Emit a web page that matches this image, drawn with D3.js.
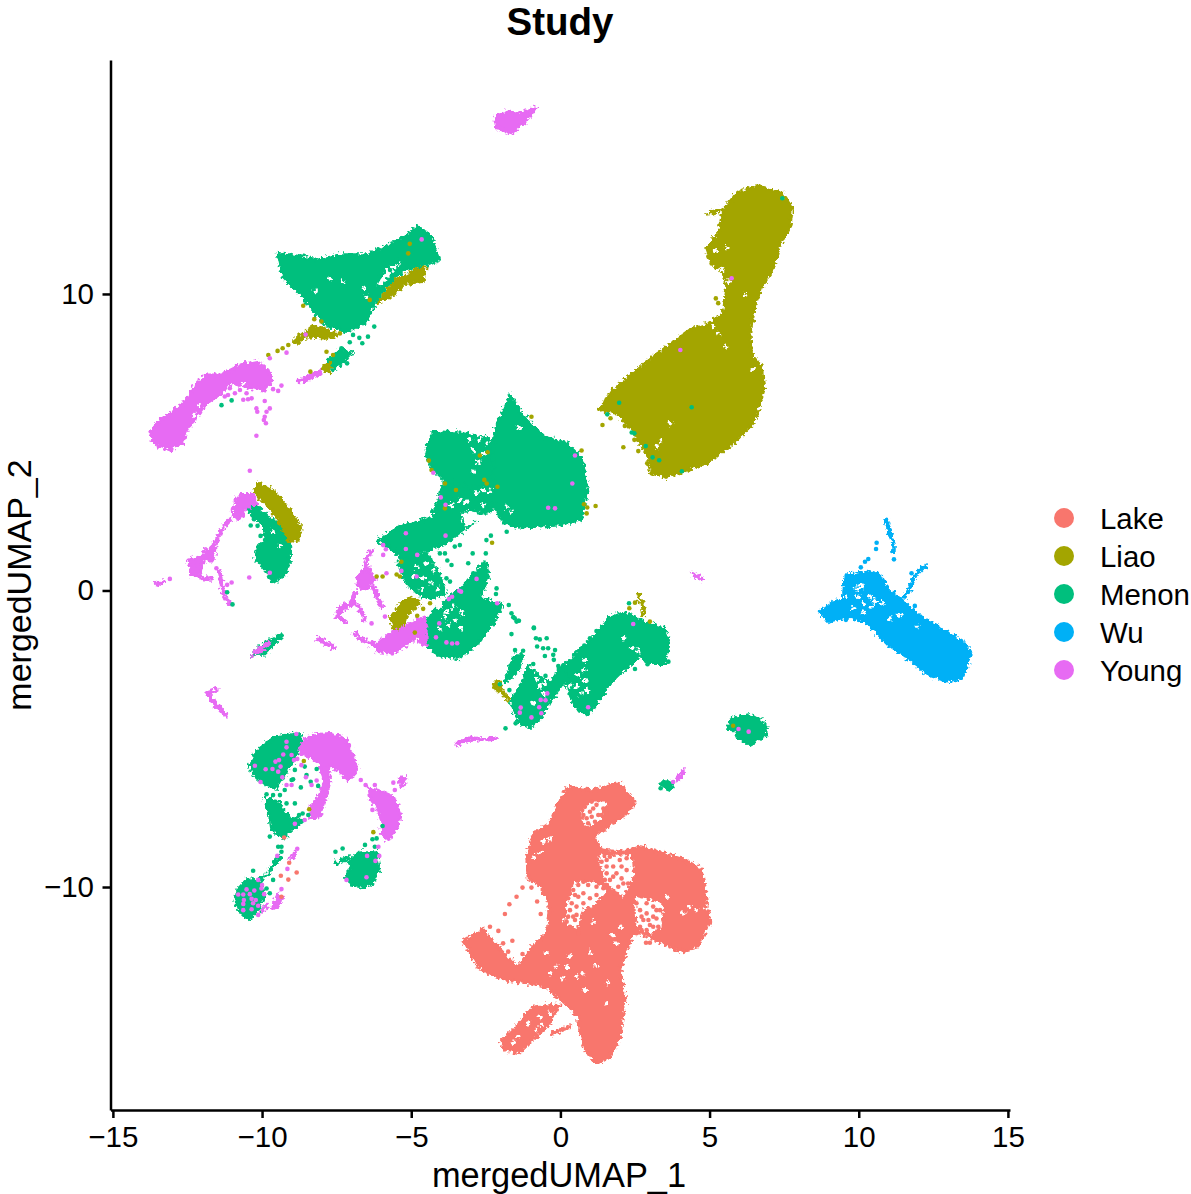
<!DOCTYPE html>
<html lang="en">
<head>
<meta charset="UTF-8">
<title>Study</title>
<script src="https://d3js.org/d3.v7.min.js"></script>
<style>
    html, body { margin: 0; background: #fff; }
    svg { display: block; }
    text { font-family: 'Liberation Sans', Arial, sans-serif; fill: #000; }
    .axis path, .axis line { stroke: #000; stroke-width: 2.5; }
</style>
</head>
<body>
<svg id="chart" width="1191" height="1194"></svg>
<script>
const studies = ["Lake", "Liao", "Menon", "Wu", "Young"];
const colours = ["#F8766D", "#A3A500", "#00BF7D", "#00B0F6", "#E76BF3"];
const xTicks = [-15, -10, -5, 0, 5, 10, 15];
const yTicks = [-10, 0, 10];

// outlines of the dense clouds
const lakeBlobs = [
    [[0.26,-6.64],[1.10,-6.73],[1.94,-6.48],[2.50,-7.12],[2.22,-7.52],[1.66,-7.91],[1.10,-8.30],[1.38,-8.75],[1.99,-8.81],[2.72,-8.64],[3.45,-8.86],[4.23,-9.11],[4.73,-9.43],[4.90,-10.55],[5.01,-11.17],[4.62,-12.01],[4.12,-12.18],[3.45,-11.90],[2.89,-11.62],[2.44,-11.56],[2.22,-12.12],[1.99,-12.80],[2.16,-13.81],[1.99,-15.05],[1.66,-15.72],[1.21,-15.95],[0.82,-15.50],[0.65,-14.82],[0.60,-14.32],[0.10,-13.87],[-0.46,-13.36],[-1.02,-13.25],[-1.86,-13.14],[-2.70,-12.74],[-3.26,-11.84],[-2.59,-11.43],[-2.20,-11.90],[-1.80,-12.35],[-1.41,-12.69],[-1.02,-12.12],[-0.46,-11.56],[-0.35,-10.89],[-0.41,-10.44],[-0.69,-9.93],[-1.08,-9.71],[-1.13,-9.03],[-0.91,-8.19],[-0.35,-7.85],[-0.13,-7.29]],
    [[-2.00,-15.22],[-1.47,-14.71],[-0.91,-14.04],[-0.02,-13.98],[-0.46,-14.71],[-1.02,-15.22],[-1.36,-15.59],[-1.86,-15.50]]
];
const liaoBlobs = [
    [[6.58,13.65],[7.42,13.40],[7.78,12.89],[7.69,12.27],[7.33,11.60],[7.13,10.81],[6.74,10.25],[6.52,9.57],[6.35,8.68],[6.41,7.94],[6.74,7.55],[6.82,6.76],[6.46,5.64],[5.79,4.96],[4.90,4.29],[4.12,4.01],[3.54,3.84],[3.06,3.95],[2.94,4.51],[2.33,5.52],[1.88,5.98],[1.32,6.09],[1.77,6.76],[2.44,7.33],[3.34,8.05],[4.34,8.79],[5.01,9.01],[5.46,9.35],[5.57,10.13],[5.46,10.70],[5.07,11.04],[4.90,11.54],[5.29,12.05],[5.46,12.83],[5.91,13.40]],
    [[-6.11,9.74],[-5.49,10.47],[-4.82,10.81],[-4.54,10.92],[-4.60,10.42],[-5.16,10.36],[-5.83,9.80]],
    [[-8.96,8.39],[-8.62,8.67],[-8.29,8.92],[-7.84,8.79],[-7.50,8.62],[-7.84,8.51],[-8.51,8.56],[-8.84,8.34]],
    [[-8.00,7.49],[-7.73,7.66],[-7.73,7.38]],
    [[-10.13,3.62],[-9.57,3.33],[-9.07,2.72],[-8.68,2.10],[-8.79,1.70],[-9.07,1.65],[-9.35,2.21],[-9.57,2.55],[-9.96,3.00],[-10.26,3.33]],
    [[-5.72,-0.94],[-5.33,-0.43],[-5.05,-0.26],[-4.71,-0.38],[-5.10,-0.79],[-5.25,-1.16],[-5.55,-1.31]],
    [[-2.25,-3.19],[-2.14,-3.05],[-2.00,-3.19],[-2.14,-3.36]]
];
const menonBlobs = [
    [[-9.46,11.37],[-8.06,11.15],[-7.39,11.32],[-6.50,11.32],[-5.61,11.71],[-5.05,12.05],[-4.77,12.27],[-4.37,11.99],[-4.06,11.15],[-4.49,10.98],[-5.27,10.81],[-5.94,10.13],[-6.28,9.57],[-6.50,9.07],[-7.17,8.73],[-7.84,8.95],[-8.40,9.57],[-8.62,9.91],[-9.29,10.58]],
    [[-7.78,7.77],[-7.39,8.11],[-7.00,8.05],[-7.22,7.77],[-7.62,7.44]],
    [[-10.47,2.77],[-10.19,2.88],[-9.74,2.43],[-9.35,2.21],[-9.07,1.59],[-9.09,0.92],[-9.24,0.52],[-9.63,0.27],[-9.85,0.64],[-10.21,1.08],[-10.13,1.48],[-9.85,1.76],[-10.02,2.27],[-10.30,2.49]],
    [[-10.32,-2.17],[-10.07,-1.87],[-9.51,-1.56],[-9.29,-1.53],[-9.46,-1.67],[-9.91,-2.14]],
    [[-1.69,6.59],[-1.30,5.97],[-0.58,5.19],[0.21,4.96],[0.71,4.46],[0.90,3.50],[0.71,2.38],[-0.02,2.21],[-1.47,2.13],[-1.92,2.32],[-2.25,2.94],[-2.36,4.29],[-2.14,5.53]],
    [[-4.26,5.36],[-3.26,5.30],[-2.25,5.08],[-2.25,3.50],[-2.81,3.50],[-3.26,3.39],[-3.87,3.73],[-4.32,4.12],[-4.51,4.68]],
    [[-3.26,3.39],[-2.36,3.50],[-2.14,2.71],[-2.59,2.60],[-3.03,2.77],[-3.26,2.94]],
    [[-4.26,2.60],[-3.87,3.73],[-3.03,3.50],[-2.81,2.83],[-3.37,2.60]],
    [[-6.11,1.70],[-5.38,2.15],[-4.37,2.43],[-3.82,2.83],[-3.26,2.43],[-2.87,2.32],[-3.26,2.04],[-3.93,1.53],[-4.82,1.25],[-5.27,0.97],[-5.60,1.37],[-5.94,1.57]],
    [[-5.44,0.92],[-4.49,1.25],[-4.04,0.52],[-3.87,-0.10],[-4.37,-0.26],[-4.82,-0.10],[-5.21,0.35]],
    [[-4.26,-0.71],[-3.26,0.13],[-2.53,0.97],[-2.39,0.52],[-2.70,-0.26],[-1.97,-0.49],[-2.25,-1.11],[-2.81,-1.84],[-3.48,-2.29],[-4.15,-2.18],[-4.54,-1.67],[-4.49,-1.11]],
    [[0.15,-2.51],[0.65,-2.01],[1.21,-1.50],[1.66,-0.88],[2.22,-0.75],[2.89,-1.11],[3.45,-1.28],[3.65,-1.73],[3.50,-2.46],[3.00,-2.46],[2.67,-2.23],[2.22,-2.57],[1.66,-3.13],[1.10,-3.97],[0.88,-4.20],[0.49,-3.92],[0.26,-3.36]],
    [[-1.67,-3.75],[-1.30,-3.13],[-1.08,-2.57],[-0.69,-2.91],[-0.30,-3.13],[-0.02,-2.57],[0.15,-2.51],[0.21,-3.02],[-0.35,-3.69],[-0.63,-4.26],[-1.02,-4.61],[-1.41,-4.42]],
    [[-1.86,-3.02],[-1.52,-2.17],[-1.25,-2.17],[-1.41,-2.68],[-1.80,-3.07]],
    [[5.57,-4.65],[5.79,-4.31],[6.35,-4.18],[6.93,-4.54],[6.86,-4.93],[6.35,-5.19],[5.96,-4.99],[5.85,-4.74]],
    [[3.34,-6.45],[3.67,-6.45],[3.78,-6.50],[3.67,-6.71],[3.45,-6.62]],
    [[-10.39,-5.94],[-10.21,-5.44],[-9.57,-4.93],[-8.68,-4.82],[-8.73,-5.27],[-9.01,-5.83],[-9.29,-6.28],[-9.52,-6.67],[-9.96,-6.50],[-10.30,-6.22]],
    [[-9.91,-7.01],[-9.46,-7.12],[-9.24,-7.52],[-9.01,-7.68],[-8.57,-7.74],[-8.90,-7.99],[-9.29,-8.36],[-9.68,-8.02],[-9.76,-7.52]],
    [[-10.91,-10.44],[-10.80,-10.05],[-10.46,-9.74],[-10.02,-9.88],[-9.91,-10.27],[-10.13,-10.78],[-10.41,-11.08],[-10.74,-10.89]],
    [[-7.11,-9.15],[-6.72,-8.81],[-6.16,-8.81],[-6.08,-9.43],[-6.27,-9.88],[-6.61,-10.02],[-7.00,-9.93],[-7.17,-9.65],[-7.00,-9.31]]
];
const wuBlobs = [
    [[8.70,-0.71],[9.15,-0.38],[9.48,-0.32],[9.54,0.52],[9.93,0.56],[10.38,0.63],[10.71,0.52],[10.99,0.02],[11.44,-0.32],[11.94,-0.77],[12.72,-1.28],[13.50,-1.73],[13.75,-2.12],[13.50,-2.91],[13.06,-3.07],[12.33,-2.85],[11.72,-2.34],[10.93,-1.78],[10.26,-1.05],[9.59,-0.88],[8.98,-1.05]]
];
const youngBlobs = [
    [[-2.20,15.94],[-1.86,16.14],[-1.36,16.10],[-0.82,16.27],[-1.19,15.80],[-1.63,15.43],[-2.13,15.60]],
    [[-8.79,7.08],[-8.06,7.41],[-8.06,7.30],[-8.73,7.01]],
    [[-13.76,5.30],[-13.43,5.75],[-12.98,6.03],[-12.64,6.31],[-12.20,6.99],[-11.86,7.27],[-11.41,7.27],[-10.74,7.61],[-10.18,7.72],[-9.80,7.44],[-9.68,7.10],[-9.91,6.76],[-10.52,6.87],[-11.08,6.99],[-11.36,6.65],[-11.86,6.31],[-12.20,5.86],[-12.53,5.41],[-12.64,5.02],[-13.09,4.74],[-13.54,4.91]],
    [[-10.86,3.05],[-10.69,3.24],[-10.30,3.24],[-10.19,2.94],[-10.58,2.77],[-10.72,2.40],[-10.95,2.49],[-10.97,2.77]],
    [[-12.48,1.03],[-11.92,1.14],[-12.09,0.58],[-12.36,0.52]],
    [[-11.92,1.37],[-11.58,1.42],[-11.64,1.03],[-11.97,1.03]],
    [[-10.32,-2.17],[-10.13,-1.95],[-9.74,-1.73],[-9.91,-1.95],[-10.13,-2.12]],
    [[-6.22,-1.84],[-5.94,-1.61],[-5.27,-1.24],[-4.82,-1.00],[-4.71,-1.45],[-5.05,-1.73],[-5.60,-2.12],[-6.11,-2.06]],
    [[-4.93,-1.10],[-4.55,-0.90],[-4.50,-1.33],[-4.50,-1.85],[-4.71,-1.78],[-4.77,-1.33]],
    [[-6.78,0.52],[-6.44,0.80],[-6.22,0.35],[-6.55,0.02],[-6.78,0.13]],
    [[-8.68,-5.15],[-8.29,-4.87],[-7.73,-4.82],[-7.17,-5.04],[-6.95,-5.60],[-6.81,-6.05],[-7.11,-6.39],[-7.45,-6.05],[-7.78,-5.89],[-7.73,-6.50],[-7.84,-6.90],[-8.08,-7.63],[-8.37,-7.68],[-8.37,-7.35],[-8.08,-6.90],[-7.95,-6.50],[-8.06,-5.83],[-8.51,-5.55],[-8.73,-5.44]],
    [[-6.44,-6.67],[-6.05,-6.76],[-5.60,-6.95],[-5.35,-7.57],[-5.49,-8.02],[-5.77,-8.42],[-5.96,-8.25],[-6.00,-7.74],[-6.16,-7.29],[-6.39,-7.01]],
    [[-5.40,-6.33],[-5.18,-6.31],[-5.27,-6.62],[-5.38,-6.56]],
    [[-9.68,-10.66],[-9.46,-10.27],[-9.31,-10.38],[-9.46,-10.61],[-9.63,-10.72]]
];

// thin strands, one stroke each
const lakeTrails = [[[-0.24,-14.93],[0.32,-14.71]]];
const liaoTrails = [
    [[4.99,12.72],[5.35,12.83]],
    [[-2.14,-3.19],[-1.97,-3.41],[-1.75,-3.67]],
    [[2.61,-0.15],[2.78,-0.60],[2.80,-0.83]]
];
const menonTrails = [
    [[-9.40,-9.03],[-9.63,-9.26],[-9.80,-9.54],[-10.07,-9.76]],
    [[-7.50,-9.20],[-7.11,-9.00]]
];
const wuTrails = [
    [[10.93,2.38],[11.05,1.93],[11.16,1.59],[11.16,1.31]],
    [[12.22,0.84],[11.88,0.47],[11.66,-0.04],[11.49,-0.21]]
];
const youngTrails = [
    [[-11.08,2.38],[-11.36,2.04],[-11.58,1.59],[-11.86,1.25],[-12.31,0.92],[-12.31,0.64],[-11.97,0.41],[-11.69,0.41]],
    [[-11.44,0.64],[-11.36,0.24],[-11.25,-0.21],[-11.02,-0.49]],
    [[-13.52,0.21],[-13.31,0.30]],
    [[-8.12,-1.61],[-7.84,-1.78],[-7.56,-1.93]],
    [[-7.50,-0.88],[-7.34,-0.55],[-7.11,-0.46]],
    [[-11.86,-3.47],[-11.53,-3.36]],
    [[-11.80,-3.52],[-11.58,-3.80],[-11.36,-4.03],[-11.19,-4.25]],
    [[-6.33,1.34],[-6.52,0.97],[-6.55,0.69]],
    [[-6.27,0.13],[-5.99,-0.55]],
    [[-7.50,-0.83],[-7.17,-0.55],[-6.94,-0.43],[-6.67,-0.71],[-6.55,-0.99]],
    [[-7.45,-0.88],[-7.22,-1.05]],
    [[-6.89,-1.45],[-6.61,-1.67],[-6.22,-1.84]],
    [[-6.89,-0.04],[-7.00,-0.43]],
    [[3.92,-6.36],[4.14,-6.11]],
    [[-3.46,-5.18],[-2.98,-4.99],[-2.75,-5.02],[-2.20,-5.00]],
    [[4.44,0.56],[4.74,0.39]],
    [[-9.03,-9.03],[-8.90,-8.84]],
    [[-10.02,-10.83],[-9.85,-10.61]]
];

// empty patches inside the clouds
const emptyPatches = [
    [[-6.16,10.25],[-5.83,10.85],[-5.27,11.10],[-5.49,10.92],[-5.94,10.36]],
    [[-3.31,2.54],[-2.81,2.60],[-2.92,2.27],[-3.20,2.15]],
    [[0.49,-9.82],[1.10,-9.82],[1.55,-10.10],[1.21,-10.55],[0.71,-10.78],[0.60,-11.34],[0.21,-11.28],[0.21,-10.55]],
    [[0.71,-7.52],[0.99,-7.12],[1.55,-7.12],[1.32,-7.74],[0.99,-7.97],[0.77,-7.85]],
    [[1.27,-8.98],[2.39,-8.92],[2.44,-9.65],[2.11,-10.33],[1.55,-9.88]],
    [[2.50,-10.33],[3.45,-10.55],[3.39,-11.34],[3.00,-11.56],[2.55,-11.34]]
];

// small white specks in the clouds
const holes = [
    [5.29,8.67],[5.52,8.22],[5.12,8.90],[5.18,11.48],[5.57,11.54],[6.19,9.97],[6.47,7.44],[3.67,5.64],[3.34,5.02],[3.22,4.85],[5.40,10.81],[5.63,10.42],
    [-2.92,4.74],[-1.41,5.47],[-2.59,3.39],[-2.81,3.28],[-2.36,3.33],[-3.15,2.99],[-3.37,3.05],[-3.65,2.88],[-2.59,2.88],[-2.25,2.66],[-1.80,2.83],[-1.64,2.66],[-2.92,4.01],[-2.75,4.35],[-2.59,4.63],[-2.70,5.08],[-2.47,4.96],[-3.03,5.08],
    [-4.82,0.80],[-4.49,0.92],[-4.26,0.69],[-4.60,0.41],[-4.32,0.24],[-4.10,0.07],[-4.93,0.47],[-4.65,0.02],
    [-3.87,-0.88],[-3.54,-1.00],[-3.31,-0.77],[-3.76,-1.16],[-4.04,-0.55],[-3.59,-0.55],[-3.31,-1.28],[-3.82,-0.71],[-4.04,-1.28],
    [2.61,-2.06],[2.44,-1.95],[2.11,-1.61],[0.82,-2.34],[0.60,-2.85],[0.82,-3.02],[0.54,-3.24],[0.71,-3.47],[0.77,-2.68],[0.32,-3.24],[0.88,-3.36],[-0.69,-3.24],[-0.91,-3.81],[-0.57,-3.47],[-0.78,-3.02],[-0.52,-3.13],
    [4.12,-10.89],[4.57,-10.78],[4.90,-10.72],[3.56,-10.33],[4.34,-10.66],[0.82,-13.47],[0.10,-13.08],[-0.13,-12.69],[-0.46,-12.24],[0.32,-12.35],[0.77,-12.91],[1.88,-11.90],[1.77,-11.62],[1.10,-11.17],[1.60,-13.25],[1.55,-13.92],[0.54,-13.02],[0.21,-12.69],[1.21,-12.69],[-0.35,-12.91],[1.00,-12.18],[2.00,-11.34],[0.10,-11.11],[-0.69,-8.87],[-0.57,-8.47],[-0.91,-8.98],[-0.35,-8.36],[-0.63,-14.65],[-0.80,-14.82],[-1.08,-14.60],[-1.41,-15.05],[-1.58,-15.22],[-0.69,-14.37],[-0.35,-14.26],[-0.46,-14.93],
    [10.10,0.13],[9.93,0.07],[9.98,-0.21],[10.38,-0.21],[10.54,-0.38],[10.15,-0.43],[9.82,-0.60],[10.77,-0.43],[9.59,-0.21],[11.38,-0.83],[11.94,-1.22],[10.43,-0.54],[10.15,-0.71],[11.05,-0.94],
    [-10.91,6.87],[-10.63,6.99],[-12.25,5.95],[-12.09,6.25],[-8.20,10.10],[-7.70,10.50],[-7.30,10.40],[-6.60,10.20],[-6.50,9.90],[-9.65,2.00],[-9.40,1.50]
];

// single cells
const lakeDots = [
    [-9.37,-9.62],[-9.12,-9.75],[-8.84,-9.51],[-9.09,-9.18],[-9.35,-10.33],[-9.26,-8.33],
    [0.49,-10.27],[0.77,-10.21],[0.54,-10.66],[0.32,-10.78],[0.93,-9.93],[0.43,-11.00],
    [1.10,-7.35],[1.27,-7.57],[1.05,-7.63],[0.88,-7.68],
    [1.55,-9.09],[1.77,-9.31],[1.99,-9.09],[1.88,-9.54],[1.55,-9.54],[2.22,-9.43],[2.11,-9.88],[1.66,-9.76],
    [2.67,-10.78],[2.89,-10.89],[3.11,-11.00],[2.78,-11.11],[2.67,-11.34],[3.11,-10.66],[2.89,-10.55],[3.28,-11.34],[3.00,-11.28],[3.34,-10.78],[2.72,-11.45],[3.00,-11.88],[2.87,-11.88],
    [-1.86,-10.91],[-1.71,-10.58],[-1.47,-10.33],[-1.27,-10.02],[-0.97,-10.02],[-0.78,-10.49],[-0.66,-10.91],[-2.36,-11.34],[-2.08,-11.48],[-1.61,-11.81],[-1.75,-12.18],[-1.27,-12.26],[-1.92,-11.90],
    [0.82,-7.29],[0.99,-7.46],[1.21,-7.23],[1.44,-7.35],[1.38,-7.57],[1.16,-7.80],[0.93,-7.85],[1.05,-7.12],[1.55,-7.52],[0.77,-7.57],
    [0.60,-9.93],[0.77,-9.82],[1.21,-9.99],[1.44,-10.04],[0.43,-10.10],[0.60,-10.33],[0.99,-10.38],[1.21,-10.27],[0.26,-10.38],[0.38,-10.55],[0.77,-10.55],[0.54,-10.94],[0.26,-11.00],[0.21,-11.17],[0.49,-11.11],[0.32,-11.34],[0.60,-11.56],
    [1.38,-9.15],[1.66,-8.98],[2.22,-9.03],[2.05,-9.31],[1.55,-9.31],[1.77,-9.65],[2.05,-9.71],[2.27,-9.88],[1.94,-9.99],[1.83,-10.21],[1.49,-9.76],
    [2.55,-10.55],[2.72,-11.00],[2.95,-11.11],[3.22,-11.06],[3.11,-11.34],[2.89,-11.45],[2.50,-11.11],[2.55,-11.56],[3.22,-10.78],[3.45,-11.11]
];
const liaoDots = [
    [1.41,5.58],[1.55,6.44],[1.38,6.11],[1.68,5.81],[2.11,4.83],[2.61,4.70],[2.91,4.29],[3.06,3.95],[3.54,3.84],[2.16,5.55],[2.48,5.08],[5.21,9.85],[5.29,9.69],[5.07,11.03],[4.96,11.26],
    [-9.79,7.94],[-9.48,8.08],[-9.31,8.17],[-9.12,8.28],[-8.62,9.60],[-8.25,9.15],[-8.01,9.07],[-7.84,8.05],[-7.62,7.94],[-8.38,7.38],[-6.39,9.80],[-5.05,11.69],[-5.10,11.37],[-7.39,8.67],
    [0.71,4.72],[-0.97,5.86],[-4.41,4.38],[-4.32,4.06],[-3.87,3.61],[-3.50,3.39],[-2.55,3.73],[-2.47,3.61],[-2.11,3.50],[-3.87,2.77],[-2.70,4.55],[-2.44,4.66],[0.79,2.91],[0.90,2.80],[0.88,2.60],[1.18,2.85],[-2.29,1.61],[-5.33,0.97],[-6.16,0.47],[-5.96,0.47],[-5.49,0.54],[-5.38,0.47],[-4.88,-0.60],[-4.60,-0.62],[-4.80,-0.85],[-4.88,-1.42],[-4.37,-0.43],
    [2.50,-0.41],[3.00,-1.05],[2.31,-0.60],[5.79,-4.56],[-6.27,-8.15],[-8.60,-5.75],[-8.42,-7.38]
];
const menonDots = [
    [-11.36,6.25],[-11.02,6.41],[-6.24,8.90],[-6.45,8.56],[-6.74,8.52],[-6.64,8.34],[-7.06,8.37],[-6.95,8.62],[-7.15,7.66],[-7.34,8.17],
    [-5.94,11.03],[-5.49,11.15],[-5.71,10.81],[-6.05,10.59],[-5.16,10.98],
    [-10.38,2.19],[-10.15,2.18],[-10.05,1.84],[-10.27,2.40],[-9.90,1.70],[-10.99,-0.47],[-11.17,-0.06],
    [-1.64,-1.47],[-0.89,-1.27],[-1.41,-1.02],[-1.53,-0.94],[-1.64,-0.77],[-1.73,-0.49],[-2.14,0.07],[-2.16,-0.12],[-2.33,1.85],[-2.48,1.70],[-2.50,1.25],[-2.94,1.25],[-3.09,0.92],[-3.37,1.53],[-3.54,1.48],[-3.79,1.01],[-3.65,0.86],[-3.82,0.41],[-3.70,0.30],[-2.92,0.58],[-3.87,1.25],[-4.04,1.25],[-1.80,1.98],[-3.50,3.28],[-3.59,3.05],[-3.87,3.64],
    [-0.89,-1.25],[-1.47,-1.05],[-1.39,-1.02],[-1.58,-0.90],[-0.82,-1.61],[-0.69,-1.65],[-0.46,-1.61],[-0.78,-1.89],[-0.58,-1.95],[-0.41,-1.95],[-0.18,-2.01],[-0.52,-2.21],[-0.24,-2.17],[-0.22,-2.34],[-0.91,-2.48],[-1.52,-2.01],[-1.25,-2.03],[-1.71,-3.36],[-1.84,-4.65],[-1.50,-4.48],[-2.03,-3.16],[1.21,-1.37],[2.50,-2.65],[2.92,-2.49],[2.30,-0.43],[0.80,-1.86],[0.99,-1.61],[-0.07,-2.55],[-0.50,-2.88],[3.62,-2.40],[3.36,-6.67],
    [-8.70,-6.64],[-8.90,-6.05],[-8.17,-6.02],[-8.37,-6.45],[-8.12,-6.59],[-8.90,-7.18],[-9.18,-7.18],[-9.40,-6.90],[-9.63,-6.90],[-9.85,-6.87],[-8.45,-7.57],[-8.64,-7.52],[-8.76,-7.57],[-9.01,-6.39],[-9.24,-6.73],[-8.96,-6.37],[-8.57,-5.94],[-8.51,-6.22],[-9.35,-8.64],[-9.46,-8.64],[-9.35,-8.81],[-9.74,-8.30],[-10.30,-9.45],[-9.85,-10.05],[-9.63,-9.76],[-9.74,-10.21],[-9.94,-10.24],
    [-7.54,-8.81],[-7.30,-8.70],[-6.30,-8.39],[-6.16,-8.36],[-6.22,-8.64],[-6.55,-8.58],[-5.96,-7.94],
    [7.44,13.23],[1.97,6.33],[1.57,5.94],[4.40,6.18],[2.39,5.33],[2.48,5.30],[2.86,4.87],[3.09,4.49],[3.31,4.39],[4.07,4.02]
];
const wuDots = [
    [11.18,1.05],[10.60,1.61],[10.58,1.40],[10.32,1.06],[10.21,0.97],[10.07,0.78],[11.77,0.58],[11.88,-0.52],[9.57,-0.99]
];
const youngDots = [
    [-9.63,6.79],[-9.46,6.73],[-9.35,6.91],[-11.08,6.82],[-10.74,6.76],[-10.52,6.65],[-10.35,6.48],[-10.63,6.43],[-9.91,6.39],[-9.74,6.14],[-10.19,6.14],[-10.16,6.03],[-9.85,6.03],[-9.91,5.86],[-9.94,5.75],[-9.87,5.64],[-10.19,5.22],[-11.14,6.59],[-11.25,6.54],[-9.18,8.02],[-9.74,7.83],[-10.47,6.45],[-10.91,6.65],
    [-8.54,8.63],[-4.65,11.84],[-13.09,0.39],[-10.41,4.04],[-10.43,0.44],[-11.02,0.27],[-11.17,0.19],[-11.53,0.75],[-9.74,0.60],
    [0.49,4.55],[0.40,3.61],[-0.41,2.79],[-0.18,2.77],[-4.26,3.97],[-4.01,3.14],[-3.85,2.89],[-5.18,1.93],[-3.85,1.85],[-5.18,1.40],[-4.80,1.20],[-5.33,0.66],[-4.82,0.47],[-2.81,0.39],[-3.39,-0.01],[-3.33,-0.04],[-3.63,-0.21],[-3.74,-0.29],[-2.12,-0.43],[-4.06,-1.11],[-4.17,-1.58],[-3.82,-1.75],[-3.63,-1.79],[-3.46,-1.78],[-5.94,1.53],[-5.85,1.39],[-5.83,0.58],[-5.94,1.20],[-6.33,-1.11],[-5.88,-0.88],
    [2.44,-1.13],[-0.44,-3.47],[-0.66,-3.69],[-0.50,-3.70],[-0.71,-3.94],[-1.33,-3.95],[-1.36,-4.12],[-0.97,-4.28],[-0.64,-4.14],[0.93,-3.94],[5.97,-4.67],[6.31,-4.76],[3.78,-6.46],
    [-6.69,-6.39],[-6.53,-6.56],[-6.22,-6.56],[-5.60,-6.48],[-5.55,-6.73],[-6.30,-7.40],[-6.48,-8.95],[-6.20,-9.12],[-6.50,-9.67],[-7.17,-9.76],[-6.07,-8.95],[-6.10,-8.64],
    [-8.85,-4.84],[-9.18,-5.10],[-9.18,-5.29],[-9.29,-5.53],[-9.55,-5.77],[-9.43,-5.72],[-10.24,-5.91],[-9.88,-6.03],[-9.65,-6.02],[-9.46,-6.11],[-9.38,-5.94],[-10.05,-6.46],[-9.32,-6.30],[-9.01,-5.55],[-8.82,-5.68],[-8.93,-5.72],[-9.01,-6.56],[-9.18,-6.56],[-8.17,-6.41],[-8.51,-5.55],[-8.68,-5.89],[-8.53,-6.30],[-8.34,-6.56],[-8.57,-7.74],[-8.90,-7.87],
    [-8.82,-8.71],[-9.15,-9.39],[-10.13,-9.76],[-10.00,-9.93],[-10.02,-10.05],[-10.52,-10.08],[-10.80,-10.25],[-10.63,-10.25],[-10.41,-10.24],[-10.26,-10.12],[-10.35,-10.40],[-10.21,-10.44],[-10.61,-10.44],[-10.63,-10.57],[-10.30,-10.55],[-10.63,-10.78],[-10.35,-10.75],[-10.13,-10.94],[-9.49,-8.95],[-9.35,-10.07],[-10.13,-10.63],[-9.93,-10.24],
    [5.74,10.53],[4.02,8.11]
];

const blobs = [lakeBlobs, liaoBlobs, menonBlobs, wuBlobs, youngBlobs];
const trails = [lakeTrails, liaoTrails, menonTrails, wuTrails, youngTrails];
const dots = [lakeDots, liaoDots, menonDots, wuDots, youngDots];

// Menon goes down before Liao, the olive strips sit on top of it
const cloudOrder = [0, 2, 1, 3, 4];

const svg = d3.select("#chart");
const x = d3.scaleLinear().domain([-15.08, 15.07]).range([110.5, 1010]);
const y = d3.scaleLinear().domain([-17.52, 17.89]).range([1110, 60]);

const outline = d3.line().x(d => x(d[0])).y(d => y(d[1])).curve(d3.curveLinearClosed);
const strand = d3.line().x(d => x(d[0])).y(d => y(d[1])).curve(d3.curveCatmullRom.alpha(0.5));

// grain on the edges, so the filled outlines read as clouds of points
const rough = svg.append("defs").append("filter")
    .attr("id", "rough")
    .attr("filterUnits", "userSpaceOnUse")
    .attr("x", 0).attr("y", 0).attr("width", 1191).attr("height", 1194)
    .attr("color-interpolation-filters", "sRGB");
rough.append("feTurbulence")
    .attr("type", "fractalNoise")
    .attr("baseFrequency", 0.3)
    .attr("numOctaves", 2)
    .attr("seed", 4)
    .attr("result", "noise");
rough.append("feDisplacementMap")
    .attr("in", "SourceGraphic")
    .attr("in2", "noise")
    .attr("scale", 8)
    .attr("xChannelSelector", "R")
    .attr("yChannelSelector", "G");

const cloud = svg.append("g").attr("filter", "url(#rough)");

cloudOrder.forEach(i => {
    cloud.append("g").selectAll("path")
        .data(blobs[i])
        .enter().append("path")
        .attr("d", outline)
        .attr("fill", colours[i])
        .attr("stroke", colours[i])
        .attr("stroke-width", 3)
        .attr("stroke-linejoin", "round");
});

cloud.append("g").selectAll("path")
    .data(emptyPatches)
    .enter().append("path")
    .attr("d", outline)
    .attr("fill", "#fff");

cloud.append("g").selectAll("circle")
    .data(holes)
    .enter().append("circle")
    .attr("cx", d => x(d[0]))
    .attr("cy", d => y(d[1]))
    .attr("r", 2.2)
    .attr("fill", "#fff");

cloudOrder.forEach(i => {
    cloud.append("g").selectAll("path")
        .data(trails[i])
        .enter().append("path")
        .attr("d", strand)
        .attr("fill", "none")
        .attr("stroke", colours[i])
        .attr("stroke-width", 4.5)
        .attr("stroke-linecap", "round");
});

const points = svg.append("g");
cloudOrder.forEach(i => {
    points.append("g").selectAll("circle")
        .data(dots[i])
        .enter().append("circle")
        .attr("cx", d => x(d[0]))
        .attr("cy", d => y(d[1]))
        .attr("r", 2.3)
        .attr("fill", colours[i]);
});

// axes
const minus = d => String(d).replace("-", "\u2212");

const xAxis = svg.append("g")
    .attr("class", "axis")
    .attr("transform", "translate(0,1110)")
    .call(d3.axisBottom(x).tickValues(xTicks).tickFormat(minus).tickSize(8).tickSizeOuter(0).tickPadding(8));
const yAxis = svg.append("g")
    .attr("class", "axis")
    .attr("transform", "translate(110.5,0)")
    .call(d3.axisLeft(y).tickValues(yTicks).tickFormat(minus).tickSize(8).tickSizeOuter(0).tickPadding(8.5));

xAxis.selectAll("text").attr("font-size", 29.5).attr("fill", "#000");
yAxis.selectAll("text").attr("font-size", 29.5).attr("fill", "#000");

svg.append("text")
    .attr("x", 560).attr("y", 35)
    .attr("text-anchor", "middle")
    .attr("font-size", 38.5)
    .attr("font-weight", "bold")
    .text("Study");

svg.append("text")
    .attr("x", 559).attr("y", 1187)
    .attr("text-anchor", "middle")
    .attr("font-size", 34.4)
    .text("mergedUMAP_1");

svg.append("text")
    .attr("transform", "translate(31,585) rotate(-90)")
    .attr("text-anchor", "middle")
    .attr("font-size", 34)
    .text("mergedUMAP_2");

// legend
const legend = svg.append("g").selectAll("g")
    .data(studies)
    .enter().append("g")
    .attr("transform", (d, i) => `translate(1064,${518 + i * 38})`);

legend.append("circle")
    .attr("r", 10)
    .attr("fill", (d, i) => colours[i]);

legend.append("text")
    .attr("x", 36)
    .attr("y", 11)
    .attr("font-size", 29.4)
    .text(d => d);
</script>
</body>
</html>
